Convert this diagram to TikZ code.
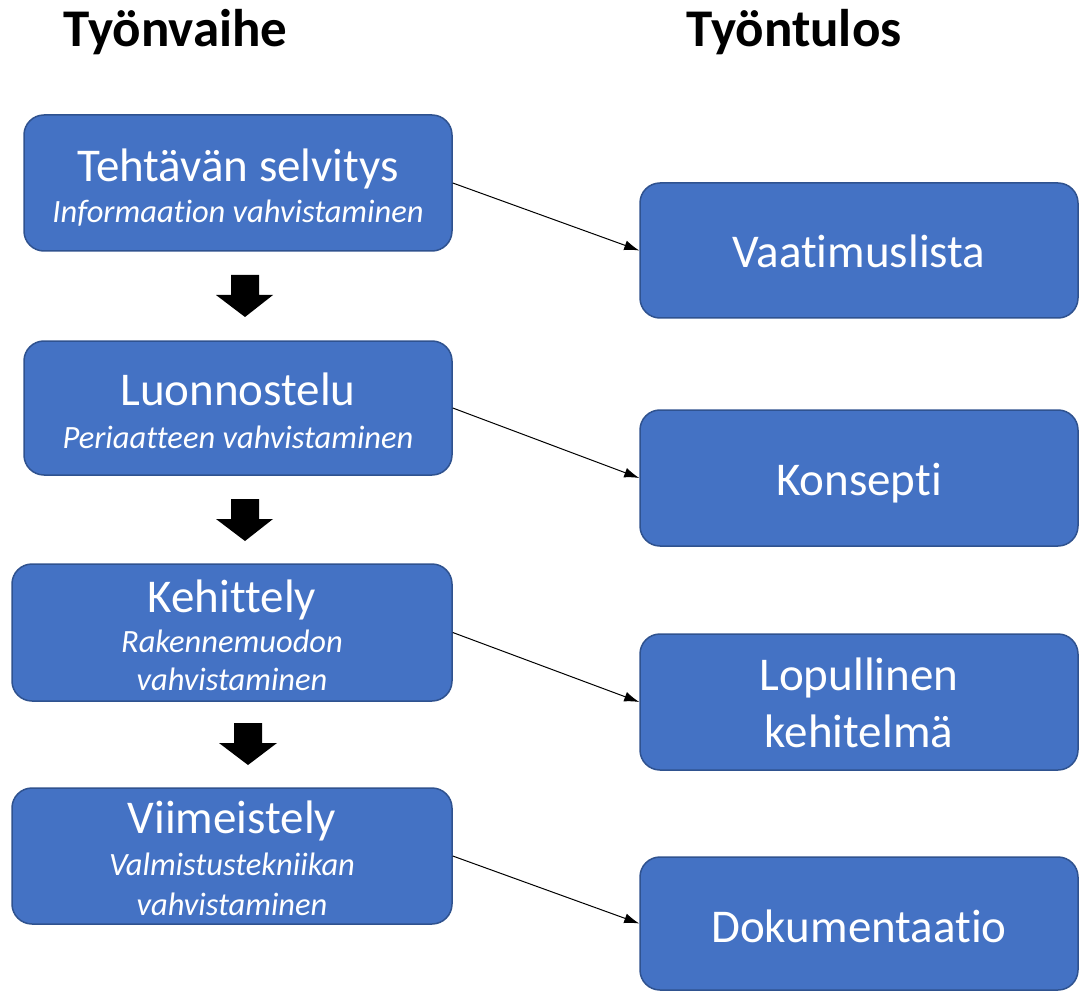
\documentclass[tikz,border=0pt]{standalone}
\usepackage{fontspec}
\setmainfont{Carlito}[Ligatures={NoCommon}]
\usetikzlibrary{arrows.meta}
\definecolor{boxfill}{HTML}{4472C4}
\definecolor{boxline}{HTML}{2F528F}
\begin{document}
\begin{tikzpicture}[x=1pt,y=-1pt,
  box/.style={rectangle, draw=boxline, line width=1.5pt, fill=boxfill, rounded corners=20pt, inner sep=0pt},
  maintxt/.style={text=white, font=\fontsize{47}{56}\selectfont, anchor=base, inner sep=0pt},
  subtxt/.style={text=white, font=\fontsize{32.5}{40}\selectfont\itshape, anchor=base, inner sep=0pt},
  head/.style={text=black, font=\fontsize{53}{62}\selectfont\bfseries, anchor=base, inner sep=0pt},
  link/.style={-{Latex[length=15pt,width=10pt]}, line width=1pt, black},
  blockarrow/.style={fill=black, draw=none}]
\useasboundingbox (0,0) rectangle (1079,992);

% headers
\node[head] (h1) at (175.5,47) {Työnvaihe};
\node[head] (h2) at (794,47) {Työntulos};

% left boxes
\node[box, minimum width=428pt, minimum height=136pt] (l1) at (238,183) {};
\node[box, minimum width=428pt, minimum height=134pt] (l2) at (238,408) {};
\node[box, minimum width=440pt, minimum height=137pt] (l3) at (232,632.5) {};
\node[box, minimum width=440pt, minimum height=136pt] (l4) at (232,856) {};

% right boxes
\node[box, minimum width=438pt, minimum height=135pt] (r1) at (859,250.5) {};
\node[box, minimum width=438pt, minimum height=136pt] (r2) at (859,478) {};
\node[box, minimum width=438pt, minimum height=136pt] (r3) at (859,702) {};
\node[box, minimum width=438pt, minimum height=133pt] (r4) at (859,923.5) {};

% left texts
\node[maintxt] (t1) at (238,182) {Tehtävän selvitys};
\node[subtxt] (s1) at (238,223) {Informaation vahvistaminen};
\node[maintxt] (t2) at (238,405) {Luonnostelu};
\node[subtxt] (s2) at (238,448) {Periaatteen vahvistaminen};
\node[maintxt] (t3) at (232,612) {Kehittely};
\node[subtxt] (s3a) at (232,652) {Rakennemuodon};
\node[subtxt] (s3b) at (232,690) {vahvistaminen};
\node[maintxt] (t4) at (232,833) {Viimeistely};
\node[subtxt] (s4a) at (232,875) {Valmistustekniikan};
\node[subtxt] (s4b) at (232,915) {vahvistaminen};

% right texts
\node[maintxt] (u1) at (859,268) {Vaatimuslista};
\node[maintxt] (u2) at (859,495) {Konsepti};
\node[maintxt] (u3a) at (859,690) {Lopullinen};
\node[maintxt] (u3b) at (859,747) {kehitelmä};
\node[maintxt] (u4) at (859,942) {Dokumentaatio};

% connectors
\draw[link] (l1.east) -- (r1.west);
\draw[link] (l2.east) -- (r2.west);
\draw[link] (l3.east) -- (r3.west);
\draw[link] (l4.east) -- (r4.west);

% block arrows
\fill[blockarrow] (231,275) -- (259,275) -- (259,295) -- (273,295) -- (245,317) -- (216,295) -- (231,295) -- cycle;
\fill[blockarrow] (231,499) -- (259,499) -- (259,519) -- (273,519) -- (245,541) -- (216,519) -- (231,519) -- cycle;
\fill[blockarrow] (234,723) -- (262,723) -- (262,743) -- (277,743) -- (248,765) -- (219,743) -- (234,743) -- cycle;
\end{tikzpicture}
\end{document}
